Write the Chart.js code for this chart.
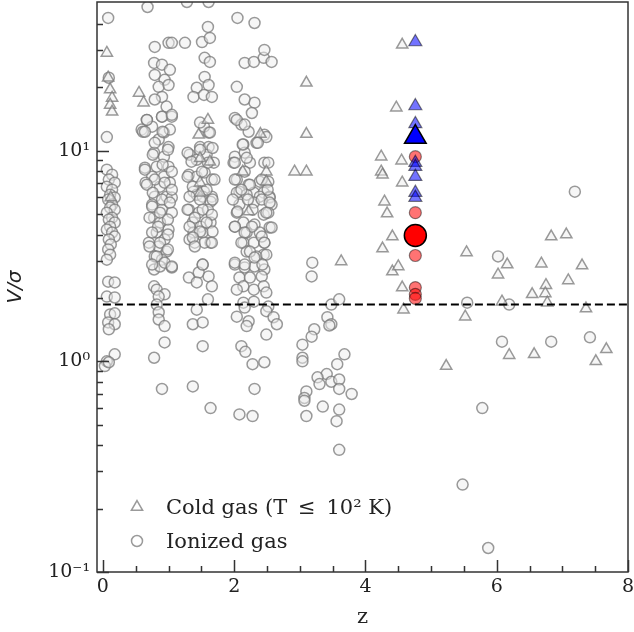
<!DOCTYPE html>
<html>
<head>
<meta charset="utf-8">
<title>V/sigma vs z</title>
<script src="https://cdn.jsdelivr.net/npm/chart.js@4.4.1/dist/chart.umd.min.js"></script>
<style>
  html, body { margin: 0; padding: 0; background: #fff; }
  #wrap { width: 634px; height: 632px; }
</style>
</head>
<body>
<div id="wrap"><canvas id="vsChart" width="634" height="632"></canvas></div>
<script>
// Data: [z, V/sigma]
const ionizedGas = [
  // z ~ 0.1
  [0.08,42.7],[0.06,11.6],[0.09,22.2],
  [0.06,8.13],[0.14,7.69],[0.09,7.29],[0.18,7.05],[0.06,6.75],[0.14,6.53],[0.11,6.18],[0.18,5.99],
  [0.08,5.86],[0.14,5.55],[0.11,5.37],[0.18,5.25],[0.06,5.08],[0.14,4.81],[0.09,4.71],[0.18,4.56],
  [0.11,4.36],[0.06,4.22],[0.14,4.09],[0.18,3.91],[0.09,3.79],[0.12,3.59],[0.08,3.40],[0.11,3.21],
  [0.06,3.04],[0.08,2.39],[0.18,2.37],[0.06,2.03],[0.18,2.01],[0.11,1.67],[0.18,1.69],[0.08,1.53],
  [0.18,1.50],[0.09,1.42],[0.18,1.08],[0.06,1.00],[0.03,0.95],[0.09,0.99],
  // z ~ 0.9
  [0.68,48.1],[0.79,31.1],[1.00,32.5],[1.05,32.5],[0.78,26.1],[0.90,25.6],[1.02,24.2],[0.79,22.9],
  [0.94,21.7],[0.85,20.1],[1.00,20.5],[0.90,18.0],[0.79,17.5],[0.97,16.2],[0.67,14.0],[0.59,12.6],
  [0.75,13.0],[0.90,14.5],[1.05,14.5],[0.93,12.2],[1.02,12.6],[0.85,11.3],[1.00,10.4],[0.78,9.79],
  [0.93,9.37],[0.64,8.30],[0.82,8.40],[1.00,8.40],[0.75,7.53],[0.93,7.53],[0.65,7.05],[0.87,6.75],
  [1.02,7.05],[0.79,6.05],[0.97,6.05],[1.05,5.99],[0.75,5.55],[0.90,5.25],[1.05,5.08],[0.78,4.81],
  [0.87,4.56],[1.00,4.22],[0.82,4.09],[0.94,3.79],[0.70,3.66],[0.85,3.51],[0.97,3.32],[0.79,3.15],
  [0.90,3.04],[1.05,2.79],[0.78,2.73],[0.87,2.82],[0.78,2.27],[0.82,2.19],[0.94,2.08],[0.85,2.03],
  [0.82,1.86],[0.85,1.71],[0.85,1.58],[0.94,1.47],[0.94,1.23],[0.78,1.04],[0.90,0.74],[0.61,12.3],
  [0.67,14.0],[0.64,12.3],[0.90,14.5],[1.05,14.8],[0.91,12.3],[0.79,10.9],[0.99,10.1],[0.76,9.57],
  [0.91,8.58],[0.64,8.13],[1.05,7.95],[0.79,7.29],[0.67,6.90],[0.94,7.05],[1.05,6.53],[0.76,6.32],
  [0.90,5.86],[1.02,5.67],[0.75,5.43],[0.87,5.08],[0.71,4.81],[0.99,4.71],[0.84,4.36],[0.75,4.09],
  [0.99,4.00],[0.87,3.66],[0.71,3.51],[0.99,3.40],[0.82,3.15],[0.94,2.94],[0.75,2.88],[1.05,2.82],
  // z ~ 1.5
  [1.28,50.8],[1.61,50.8],[1.25,32.5],[1.51,32.8],[1.63,34.3],[1.60,38.7],[1.55,27.6],[1.63,26.4],
  [1.55,22.4],[1.43,19.9],[1.61,20.5],[1.38,18.0],[1.54,18.4],[1.66,18.0],[1.61,12.2],[1.54,13.0],
  [1.48,10.4],[1.61,10.4],[1.32,9.57],[1.43,9.06],[1.58,9.57],[1.69,8.77],[1.31,7.69],[1.43,7.53],
  [1.55,7.87],[1.66,7.29],[1.38,6.39],[1.54,6.39],[1.66,6.05],[1.43,6.18],[1.52,6.05],[1.64,5.73],
  [1.31,5.25],[1.46,5.08],[1.60,5.25],[1.37,4.56],[1.49,4.36],[1.64,4.56],[1.38,4.09],[1.52,4.09],
  [1.40,3.66],[1.64,3.66],[1.32,3.79],[1.52,2.88],[1.31,2.50],[1.46,2.64],[1.61,2.53],[1.43,2.37],
  [1.66,2.27],[1.60,1.97],[1.43,1.76],[1.37,1.50],[1.52,1.53],[1.52,1.18],[1.37,0.76],[1.64,0.60],
  [1.48,13.6],[1.63,12.2],[1.29,9.79],[1.48,10.1],[1.67,10.3],[1.35,8.87],[1.60,8.77],[1.29,7.53],
  [1.51,7.95],[1.70,7.29],[1.37,6.75],[1.58,6.53],[1.32,6.05],[1.48,5.86],[1.67,5.86],[1.29,5.25],
  [1.52,5.25],[1.66,4.97],[1.40,4.81],[1.58,4.56],[1.32,4.36],[1.48,4.13],[1.67,4.13],[1.37,3.87],
  [1.55,3.66],[1.40,3.51],[1.66,3.66],[1.52,2.88],
  // z ~ 2.2
  [2.05,42.7],[2.31,40.4],[2.16,26.1],[2.30,26.4],[2.45,27.6],[2.46,30.1],[2.57,26.4],[2.04,20.1],
  [2.16,17.5],[2.31,16.9],[2.27,15.1],[2.01,14.3],[2.11,13.3],[2.22,12.3],[2.46,11.9],[2.14,10.7],
  [2.34,10.9],[2.01,9.37],[2.16,9.79],[2.24,8.77],[1.99,8.77],[2.46,8.77],[2.52,8.77],[2.04,7.29],
  [2.22,6.90],[2.39,7.13],[2.52,7.13],[2.08,6.39],[2.30,6.32],[2.45,6.32],[2.54,6.05],[2.04,6.32],
  [2.19,6.18],[2.39,6.05],[2.54,5.99],[2.08,5.55],[2.30,5.67],[2.57,5.55],[2.04,5.08],[2.45,4.97],
  [2.52,5.08],[2.14,4.56],[2.31,4.46],[2.01,4.36],[2.54,4.32],[2.19,4.09],[2.39,4.09],[2.14,3.66],
  [2.30,3.66],[2.46,3.66],[2.19,3.32],[2.45,3.21],[2.34,3.15],[2.01,2.88],[2.16,2.79],[2.31,2.82],
  [2.46,2.73],[2.08,2.50],[2.24,2.50],[2.42,2.53],[2.14,2.27],[2.30,2.19],[2.45,2.27],[2.04,2.19],
  [2.49,2.12],[2.14,1.90],[2.30,1.92],[2.52,1.82],[2.16,1.80],[2.04,1.63],[2.22,1.55],[2.19,1.47],
  [2.49,1.73],[2.60,1.62],[2.65,1.50],[2.49,1.34],[2.11,1.18],[2.17,1.11],[2.28,0.97],[2.46,0.99],
  [2.31,0.74],[2.08,0.56],[2.28,0.55],
  [2.04,14.0],[2.16,13.3],[2.49,11.6],[2.13,10.7],[2.36,10.9],[2.19,9.25],[2.01,8.77],[2.16,7.95],
  [2.01,7.29],[2.24,6.90],[2.42,7.29],[2.51,6.53],[2.11,6.53],[1.98,5.86],[2.21,5.86],[2.42,5.86],
  [2.54,5.67],[2.05,5.14],[2.28,5.25],[2.49,5.08],[2.01,4.36],[2.27,4.36],[2.57,4.32],[2.16,4.09],
  [2.42,3.91],[2.11,3.66],[2.46,3.66],[2.24,3.32],[2.01,2.94],[2.31,3.11],[2.49,3.21],[2.16,2.88],
  [2.43,2.88],
  // z ~ 3 - 3.8
  [3.48,1.86],[3.60,1.97],[3.42,1.62],[3.48,1.50],[3.45,1.48],[3.22,1.42],[3.18,1.31],[3.04,1.20],
  [3.04,1.04],[3.04,1.00],[3.68,1.08],[3.57,0.97],[3.41,0.87],[3.27,0.84],[3.30,0.78],[3.48,0.80],
  [3.60,0.82],[3.60,0.74],[3.79,0.70],[3.10,0.72],[3.07,0.67],[3.07,0.65],[3.10,0.55],[3.35,0.61],
  [3.60,0.59],[3.56,0.52],[3.60,0.38],[3.19,2.94],[3.18,2.53],
  // z > 5
  [6.02,3.15],[7.19,6.39],[5.55,1.90],[6.19,1.86],[6.08,1.24],[6.83,1.24],[7.42,1.30],[5.78,0.60],
  [5.48,0.26],[5.87,0.13]
];

const coldGas = [
  [0.06,29.1],[0.08,22.2],[0.11,19.5],[0.14,17.8],[0.11,16.5],[0.14,15.3],[0.12,5.99],
  [0.55,18.8],[0.62,16.9],
  [1.60,14.0],[1.46,11.9],[1.48,9.2],[1.63,8.87],[1.48,7.05],[1.48,6.32],
  [2.40,12.0],[2.13,7.95],[2.49,7.95],[2.49,7.13],[2.22,5.14],
  [3.10,21.0],[3.10,12.0],[2.92,7.95],[3.10,7.95],[3.63,2.98],
  [4.56,31.8],[4.47,16.0],[4.24,9.37],[4.55,8.97],[4.24,7.95],[4.26,7.69],[4.56,7.05],[4.29,5.73],
  [4.33,5.03],[4.41,3.91],[4.26,3.43],[4.41,2.67],[4.50,2.82],[4.56,2.24],[4.58,1.76],
  [5.54,3.29],[6.02,2.58],[6.16,2.88],[6.68,2.91],[6.83,3.91],[7.06,4.00],[7.09,2.42],[6.75,2.30],
  [6.74,2.10],[6.54,2.08],[7.30,2.85],[6.08,1.92],[6.77,1.90],[7.36,1.78],[5.52,1.63],[5.23,0.95],
  [6.19,1.07],[6.57,1.08],[7.51,1.00],[7.67,1.14]
];

// highlighted object at z ~ 4.76
const blueSmall = [[4.76,32.8],[4.76,16.3],[4.76,13.4],[4.76,8.77],[4.76,8.40],[4.76,7.53],[4.76,6.32],[4.76,5.99]];
const blueBig = [[4.76,11.6]];
const redSmall = [[4.76,9.37],[4.76,5.08],[4.76,3.18],[4.76,2.24],[4.76,2.08],[4.76,1.99]];
const redBig = [[4.76,3.96]];

// dashed threshold line
const thresholdZ = [0, 8];
const thresholdV = 1.86;

// axes
const xTickValues = [0, 2, 4, 6, 8];
const xMinorTicks = [0.5, 1, 1.5, 2.5, 3, 3.5, 4.5, 5, 5.5, 6.5, 7, 7.5];
const yTickValues = [0.1, 1, 10];
const yTickLabels = ['10\u207B\u00B9', '10\u2070', '10\u00B9'];
const yMinorTicks = [0.2, 0.3, 0.4, 0.5, 0.6, 0.7, 0.8, 0.9, 2, 3, 4, 5, 6, 7, 8, 9, 20, 30, 40];

const toXY = pts => pts.map(p => ({ x: p[0], y: p[1] }));

const grayEdge = 'rgba(120,120,120,0.75)';
const grayFill = 'rgba(238,238,238,0.5)';
const serif = 'DejaVu Serif';

// frame, inward ticks and legend, matplotlib style
const framePlugin = {
  id: 'frame',
  afterDraw(chart) {
    const { ctx, chartArea: a, scales: { x, y } } = chart;
    ctx.save();
    ctx.strokeStyle = '#333';
    ctx.lineWidth = 1.5;
    ctx.strokeRect(a.left, a.top, a.right - a.left, a.bottom - a.top);

    ctx.beginPath();
    xTickValues.forEach(v => {
      const px = Math.round(x.getPixelForValue(v)) + 0.5;
      ctx.moveTo(px, a.bottom); ctx.lineTo(px, a.bottom - 12);
    });
    xMinorTicks.forEach(v => {
      const px = Math.round(x.getPixelForValue(v)) + 0.5;
      ctx.moveTo(px, a.bottom); ctx.lineTo(px, a.bottom - 6);
    });
    yTickValues.forEach(v => {
      const py = Math.round(y.getPixelForValue(v)) + 0.5;
      ctx.moveTo(a.left, py); ctx.lineTo(a.left + 12, py);
    });
    yMinorTicks.forEach(v => {
      const py = Math.round(y.getPixelForValue(v)) + 0.5;
      ctx.moveTo(a.left, py); ctx.lineTo(a.left + 6, py);
    });
    ctx.stroke();

    // legend
    const items = [
      { style: 'triangle', radius: 6.5, text: 'Cold gas (T \u2009\u2264\u2009 10\u00B2 K)', y: 507 },
      { style: 'circle', radius: 5.5, text: 'Ionized gas', y: 541 }
    ];
    items.forEach(it => {
      ctx.fillStyle = 'rgba(255,255,255,0.6)';
      ctx.strokeStyle = grayEdge;
      ctx.lineWidth = 1.5;
      Chart.helpers.drawPoint(ctx, { pointStyle: it.style, radius: it.radius, rotation: 0, borderWidth: 1.5 }, 137, it.y);
      ctx.fillStyle = '#222';
      ctx.font = '21px "' + serif + '"';
      ctx.textBaseline = 'alphabetic';
      ctx.fillText(it.text, 166, it.y + 7);
    });
    ctx.restore();
  }
};

const ctx = document.getElementById('vsChart').getContext('2d');
const vsChart = new Chart(ctx, {
  type: 'scatter',
  data: {
    datasets: [{
      label: 'threshold',
      data: thresholdZ.map(z => ({ x: z, y: thresholdV })),
      showLine: true,
      borderColor: '#000',
      borderWidth: 2,
      borderDash: [8, 4],
      pointRadius: 0
    }, {
      label: 'blue big',
      data: toXY(blueBig),
      pointStyle: 'triangle',
      pointRadius: 12.5,
      backgroundColor: 'rgb(0,0,255)',
      borderColor: '#000',
      borderWidth: 1.5
    }, {
      label: 'red big',
      data: toXY(redBig),
      pointStyle: 'circle',
      pointRadius: 11,
      backgroundColor: 'rgb(255,0,0)',
      borderColor: '#000',
      borderWidth: 1.5
    }, {
      label: 'blue',
      data: toXY(blueSmall),
      pointStyle: 'triangle',
      pointRadius: 7.5,
      backgroundColor: 'rgba(0,0,255,0.55)',
      borderColor: 'rgba(0,0,0,0.5)',
      borderWidth: 1.2
    }, {
      label: 'red',
      data: toXY(redSmall),
      pointStyle: 'circle',
      pointRadius: 6,
      backgroundColor: 'rgba(255,0,0,0.55)',
      borderColor: 'rgba(0,0,0,0.45)',
      borderWidth: 1.2
    }, {
      label: 'Cold gas',
      data: toXY(coldGas),
      pointStyle: 'triangle',
      pointRadius: 6.5,
      backgroundColor: grayFill,
      borderColor: grayEdge,
      borderWidth: 1.5
    }, {
      label: 'Ionized gas',
      data: toXY(ionizedGas),
      pointStyle: 'circle',
      pointRadius: 5.5,
      backgroundColor: grayFill,
      borderColor: grayEdge,
      borderWidth: 1.5
    }].map(d => Object.assign({ clip: 0 }, d))
  },
  options: {
    responsive: false,
    animation: false,
    events: [],
    layout: { autoPadding: false, padding: { top: 2, right: 6, left: 0, bottom: 0 } },
    plugins: {
      legend: { display: false },
      tooltip: { enabled: false }
    },
    scales: {
      x: {
        type: 'linear',
        min: -0.09,
        max: 8,
        afterBuildTicks: s => { s.ticks = xTickValues.map(v => ({ value: v })); },
        afterFit: s => { s.height = 60; s.paddingLeft = 0; s.paddingRight = 0; },
        grid: { display: false, drawTicks: false },
        border: { display: false },
        ticks: {
          autoSkip: false,
          maxRotation: 0,
          padding: 4,
          color: '#222',
          font: { family: serif, size: 19 }
        },
        title: {
          display: true,
          text: 'z',
          color: '#222',
          font: { family: serif, size: 21 },
          padding: { top: 0, bottom: 2 }
        }
      },
      y: {
        type: 'logarithmic',
        min: 0.1,
        max: 50.8,
        afterBuildTicks: s => { s.ticks = yTickValues.map(v => ({ value: v })); },
        afterFit: s => { s.width = 97; s.paddingTop = 0; s.paddingBottom = 0; },
        grid: { display: false, drawTicks: false },
        border: { display: false },
        ticks: {
          autoSkip: false,
          padding: 7,
          color: '#222',
          font: { family: serif, size: 19 },
          callback: (v, i) => yTickLabels[i]
        },
        title: {
          display: true,
          text: 'V/\u03C3',
          color: '#222',
          font: { family: 'DejaVu Sans', size: 20, style: 'italic' },
          padding: { top: 4, bottom: 0 }
        }
      }
    }
  },
  plugins: [framePlugin]
});
</script>
</body>
</html>
